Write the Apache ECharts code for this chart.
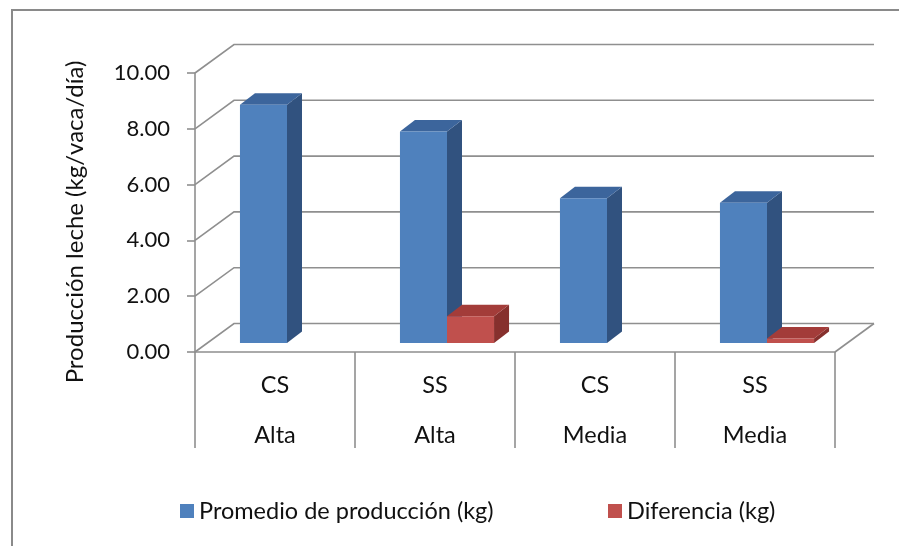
<!DOCTYPE html>
<html>
<head>
<meta charset="utf-8">
<script src="https://cdn.jsdelivr.net/npm/echarts@6/dist/echarts.min.js"></script>
<style>
  html, body { margin: 0; padding: 0; background: #ffffff; }
  #chart { width: 899px; height: 546px; }
</style>
</head>
<body>
<div id="chart"></div>
<script>
// Category rows under the floor
const sistemas = ['CS', 'SS', 'CS', 'SS'];
const niveles = ['Alta', 'Alta', 'Media', 'Media'];

// Series values (kg/vaca/día)
const promedio = [8.54, 7.58, 5.19, 5.03];
const diferencia = [null, 0.96, null, 0.16];

// Value axis ticks
const yTicks = [0, 2, 4, 6, 8, 10];

const seriesNames = ['Promedio de producción (kg)', 'Diferencia (kg)'];
const FONT = 'Lato, "Open Sans", sans-serif';

// Oblique projection used for the 3D look
const WALL = { dx: 39, dy: -28.5 };     // depth of the floor / back wall
const BAR_FRONT = { dx: 12, dy: -9 };   // where the bars' front faces sit in depth
const BAR_DEPTH = { dx: 15, dy: -11.5 }; // bar thickness in depth
const BAR_RATIO = 0.294;                 // bar width as a share of a category band

const faces = [
  { front: '#4F81BD', top: '#3C659C', side: '#31527F' },
  { front: '#C0504D', top: '#A33C39', side: '#86302D' }
];

const chart = echarts.init(document.getElementById('chart'), null, { renderer: 'canvas' });

function wallItem(params, api) {
  const v = api.value(1);
  const band = api.size([1, 0])[0];
  const p0 = api.coord([0, v]);
  const p3 = api.coord([sistemas.length - 1, v]);
  const xl = p0[0] - band / 2;
  const xr = p3[0] + band / 2;
  const y = p0[1];
  const style = { stroke: '#8f8f8f', lineWidth: 1.6, fill: null };
  const children = [{
    type: 'polyline',
    shape: { points: [[xl, y], [xl + WALL.dx, y + WALL.dy], [xr + WALL.dx, y + WALL.dy]] },
    style: style
  }];
  if (v === 0) {
    children.push({
      type: 'line',
      shape: { x1: xr, y1: y, x2: xr + WALL.dx, y2: y + WALL.dy },
      style: style
    });
  }
  return { type: 'group', children: children };
}

function barRenderer(k) {
  return function (params, api) {
    const v = api.value(1);
    if (v == null || isNaN(v)) return null;
    const idx = api.value(0);
    const band = api.size([1, 0])[0];
    const w = band * BAR_RATIO;
    const base = api.coord([idx, 0]);
    const top = api.coord([idx, v]);
    const x0 = (k === 0 ? base[0] - w : base[0]) + BAR_FRONT.dx;
    const x1 = x0 + w;
    const yb = base[1] + BAR_FRONT.dy;
    const yt = top[1] + BAR_FRONT.dy;
    const dx = BAR_DEPTH.dx, dy = BAR_DEPTH.dy;
    const c = faces[k];
    return {
      type: 'group',
      children: [
        { type: 'polygon', shape: { points: [[x1, yt], [x1 + dx, yt + dy], [x1 + dx, yb + dy], [x1, yb]] },
          style: { fill: c.side } },
        { type: 'polygon', shape: { points: [[x0, yt], [x1, yt], [x1 + dx, yt + dy], [x0 + dx, yt + dy]] },
          style: { fill: c.top } },
        { type: 'rect', shape: { x: x0, y: yt, width: w, height: yb - yt },
          style: { fill: c.front } }
      ]
    };
  };
}

const legendText = { fontFamily: FONT, fontSize: 23.5, color: '#111111', lineHeight: 24 };

const option = {
  animation: false,
  backgroundColor: '#ffffff',
  grid: { left: 195, right: 64, top: 73, bottom: 194, containLabel: false },
  xAxis: {
    type: 'category',
    data: sistemas.map((s, i) => s + '|' + niveles[i]),
    boundaryGap: true,
    axisLine: { show: true, lineStyle: { color: '#8f8f8f', width: 1.6 } },
    axisTick: { show: true, interval: 0, length: 96, lineStyle: { color: '#8f8f8f', width: 1.6 } },
    axisLabel: {
      interval: 0,
      margin: 8,
      formatter: function (val) {
        const parts = val.split('|');
        return '{a|' + parts[0] + '}\n{a|' + parts[1] + '}';
      },
      rich: { a: { fontFamily: FONT, fontSize: 23.5, color: '#111111', lineHeight: 50 } }
    },
    splitLine: { show: false }
  },
  yAxis: {
    type: 'value',
    min: yTicks[0],
    max: yTicks[yTicks.length - 1],
    interval: 2,
    axisLine: { show: true, lineStyle: { color: '#8f8f8f', width: 1.6 } },
    axisTick: { show: true, length: 8, lineStyle: { color: '#8f8f8f', width: 1.6 } },
    axisLabel: {
      margin: 25,
      fontFamily: FONT, fontSize: 22, color: '#111111',
      formatter: v => v.toFixed(2)
    },
    splitLine: { show: false }
  },
  legend: [
    {
      data: [seriesNames[0]], left: 175, top: 494,
      icon: 'rect', itemWidth: 14, itemHeight: 14, itemGap: 5,
      textStyle: legendText
    },
    {
      data: [seriesNames[1]], left: 603, top: 494,
      icon: 'rect', itemWidth: 14, itemHeight: 14, itemGap: 5,
      textStyle: legendText
    }
  ],
  graphic: [
    { type: 'rect', shape: { x: 12, y: 10, width: 1000, height: 1000 },
      style: { fill: null, stroke: '#8a8a8a', lineWidth: 2 }, silent: true, z: 0 },
    { type: 'text', x: 75, y: 222, rotation: Math.PI / 2,
      style: { text: 'Producción leche (kg/vaca/día)', fontFamily: FONT, fontSize: 24,
               fill: '#111111', align: 'center', verticalAlign: 'middle' } }
  ],
  series: [
    {
      type: 'custom', name: 'wall', silent: true, legendHoverLink: false,
      renderItem: wallItem,
      data: yTicks.map(v => [0, v]),
      z: 1
    },
    {
      type: 'custom', name: seriesNames[0],
      itemStyle: { color: faces[0].front },
      renderItem: barRenderer(0),
      data: promedio.map((v, i) => [i, v]),
      z: 2
    },
    {
      type: 'custom', name: seriesNames[1],
      itemStyle: { color: faces[1].front },
      renderItem: barRenderer(1),
      data: diferencia.map((v, i) => [i, v == null ? NaN : v]),
      z: 3
    }
  ]
};

chart.setOption(option);
</script>
</body>
</html>
